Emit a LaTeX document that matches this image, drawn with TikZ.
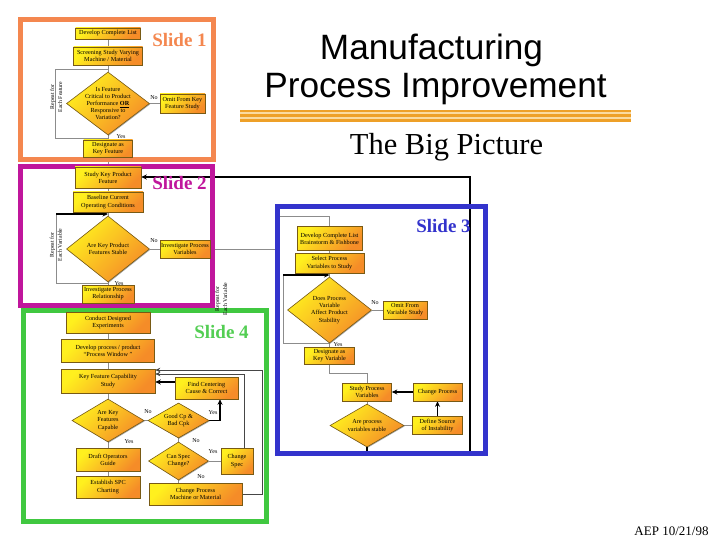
\documentclass[tikz,border=0pt]{standalone}
\usepackage{fontspec}
\setmainfont{Liberation Serif}
\newfontfamily\titlesans{Liberation Sans}
\usetikzlibrary{shapes.geometric,arrows.meta,shadows}
\pgfdeclarelayer{bg}
\pgfdeclarelayer{fr}
\pgfsetlayers{bg,fr,main}
\definecolor{gy}{RGB}{255,240,30}
\definecolor{go}{RGB}{245,140,40}
\definecolor{boxedge}{RGB}{120,90,20}
\definecolor{linegray}{RGB}{140,140,140}
\definecolor{darkline}{RGB}{70,70,70}
\definecolor{cone}{RGB}{244,135,79}
\definecolor{ctwo}{RGB}{192,22,156}
\definecolor{cthree}{RGB}{51,51,204}
\definecolor{cfour}{RGB}{64,200,64}
\definecolor{stripe}{RGB}{238,160,40}
\definecolor{stripelight}{RGB}{250,218,160}
\newcommand{\bxf}{\fontsize{6.2}{7.2}\selectfont}
\tikzset{
  box/.style={draw=boxedge, line width=0.6pt, top color=gy, bottom color=go, shading angle=45,
    align=center, inner sep=0pt, font=\bxf,
    drop shadow={shadow xshift=0.8pt, shadow yshift=-0.8pt, opacity=0.35, fill=black}},
  dia/.style={diamond, draw=boxedge, line width=0.6pt, top color=gy, bottom color=go, shading angle=45,
    inner sep=0pt,
    drop shadow={shadow xshift=0.8pt, shadow yshift=-0.8pt, opacity=0.35, fill=black}},
  dtext/.style={align=center, font=\bxf, inner sep=0pt},
  lbl/.style={font=\fontsize{6}{7}\selectfont, inner sep=0pt},
  rot/.style={rotate=90, align=center, font=\fontsize{5.8}{8}\selectfont, inner sep=0pt},
  conn/.style={draw=linegray, line width=0.7pt},
  barrow/.style={draw=black, line width=1.1pt, -{Stealth[length=5.5pt,width=5pt]}},
  darrow/.style={draw=darkline, line width=0.9pt, -{Stealth[length=5pt,width=4.5pt]}},
  frameline/.style={line width=5pt},
  slidelbl/.style={font=\bfseries\fontsize{19}{22}\selectfont, anchor=base, inner sep=0pt},
}
\begin{document}
\begin{tikzpicture}[x=1pt,y=-1pt]
\useasboundingbox (0,0) rectangle (720,540);
\begin{pgfonlayer}{bg}
  \fill[white] (0,0) rectangle (720,540);
\end{pgfonlayer}

% ---------- Title ----------
\node[font=\titlesans\fontsize{35.2}{40}\selectfont, anchor=base, inner sep=0pt] (t1) at (431.5,59.5) {Manufacturing};
\node[font=\titlesans\fontsize{35.2}{40}\selectfont, anchor=base, inner sep=0pt] (t2) at (435.5,98) {Process Improvement};
\fill[stripelight] (240,110) rectangle (631,122.3);
\fill[stripe] (240,110) rectangle (631,111.8);
\fill[stripe] (240,114) rectangle (631,117.3);
\fill[stripe] (240,119.5) rectangle (631,122);
\node[font=\fontsize{30.5}{34}\selectfont, anchor=base, inner sep=0pt] (t3) at (446.5,155) {The Big Picture};
\node[font=\fontsize{13}{15}\selectfont, anchor=base, inner sep=0pt] (t4) at (671.5,535) {AEP 10/21/98};

% ---------- Frames ----------
\begin{pgfonlayer}{fr}
  \draw[frameline, cone] (20,20) rectangle (213,160);
  \draw[frameline, ctwo] (20,167) rectangle (212,305);
  \draw[frameline, cthree] (277,207) rectangle (485,453);
  \draw[frameline, cfour] (23,310) rectangle (266,521);
\end{pgfonlayer}
\node[slidelbl, text=cone] (sl1) at (179.5,46.7) {Slide 1};
\node[slidelbl, text=ctwo] (sl2) at (179.5,190) {Slide 2};
\node[slidelbl, text=cthree] (sl3) at (443.5,233) {Slide 3};
\node[slidelbl, text=cfour!90!white] (sl4) at (221.5,338) {Slide 4};

% ---------- Slide 1 ----------
\node[box, minimum width=65, minimum height=11] (s1a) at (108,33.5) {Develop Complete List};
\node[box, minimum width=69, minimum height=18] (s1b) at (108,56) {Screening Study Varying\\Machine / Material};
\node[dia, minimum width=83, minimum height=63] (s1d) at (108,103.5) {};
\node[dtext] at (s1d) {Is Feature\\Critical to Product\\Performance \textbf{\underline{OR}}\\Responsive to\\Variation?};
\node[box, minimum width=45, minimum height=19] (s1o) at (182.5,103.5) {Omit From Key\\Feature Study};
\node[box, minimum width=49, minimum height=17] (s1c) at (108,148.5) {Designate as\\Key Feature};
\node[lbl] (n1) at (154,98) {No};
\node[lbl] (y1) at (121,136.5) {Yes};
\node[rot] (r1) at (56,97) {Repeat for\\Each Feature};
\coordinate (l1a) at (55,69);
\coordinate (l1b) at (55,138);

% ---------- Slide 2 ----------
\node[box, minimum width=66, minimum height=21] (s2a) at (108,177.5) {Study Key Product\\Feature};
\node[box, minimum width=70, minimum height=20] (s2b) at (108,202) {Baseline Current\\Operating Conditions};
\node[dia, minimum width=83, minimum height=66] (s2d) at (108,249) {};
\node[dtext] at (s2d) {Are Key Product\\Features Stable};
\node[box, minimum width=50, minimum height=18] (s2v) at (185,249) {Investigate Process\\Variables};
\node[box, minimum width=52, minimum height=18] (s2r) at (108,294) {Investigate Process\\Relationship};
\node[lbl] (n2) at (154,241) {No};
\node[lbl] (y2) at (119,283.5) {Yes};
\node[rot] (r2) at (56,245) {Repeat for\\Each Variable};
\coordinate (l2a) at (56,214);
\coordinate (l2b) at (56,283);

% ---------- Slide 3 ----------
\node[box, minimum width=65, minimum height=24] (s3a) at (329.5,238.5) {Develop Complete List\\Brainstorm \& Fishbone};
\node[box, minimum width=69, minimum height=20] (s3b) at (329.5,263) {Select Process\\Variables to Study};
\node[dia, minimum width=84, minimum height=66] (s3d) at (329.5,310) {};
\node[dtext] at (s3d) {Does Process\\Variable\\Affect Product\\Stability};
\node[box, minimum width=44, minimum height=18] (s3o) at (405,310) {Omit From\\Variable Study};
\node[box, minimum width=50, minimum height=17] (s3c) at (329.5,355.5) {Designate as\\Key Variable};
\node[box, minimum width=49, minimum height=18] (s3s) at (367,392) {Study Process\\Variables};
\node[box, minimum width=49, minimum height=18] (s3p) at (437.5,392) {Change Process};
\node[dia, minimum width=74, minimum height=43] (s3e) at (367,425.5) {};
\node[dtext] at (s3e) {Are process\\variables stable};
\node[box, minimum width=50, minimum height=18] (s3f) at (437.5,425.5) {Define Source\\of Instability};
\node[lbl] (n3) at (375,303) {No};
\node[lbl] (y3) at (338,344.5) {Yes};
\node[rot] (r3) at (221,299) {Repeat for\\Each Variable};
\coordinate (l3a) at (283,275);
\coordinate (l3b) at (283,343);
\coordinate (c1) at (277,216);
\coordinate (c4) at (367,373);
\coordinate (c2) at (470,453);
\coordinate (c3) at (470,177);

% ---------- Slide 4 ----------
\node[box, minimum width=84, minimum height=21] (s4a) at (108,322.5) {Conduct Designed\\Experiments};
\node[box, minimum width=93, minimum height=23] (s4b) at (108,350.5) {Develop process / product\\“Process Window ”};
\node[box, minimum width=94, minimum height=24] (s4c) at (108,381) {Key Feature Capability\\Study};
\node[box, minimum width=63, minimum height=22] (s4h) at (206.5,388) {Find Centering\\Cause \& Correct};
\node[dia, minimum width=72, minimum height=43] (s4d) at (108,420.5) {};
\node[dtext] at (s4d) {Are Key\\Features\\Capable};
\node[dia, minimum width=61, minimum height=35] (s4g) at (178.5,420.5) {};
\node[dtext] at (s4g) {Good Cp \&\\Bad Cpk};
\node[dia, minimum width=60, minimum height=38] (s4i) at (178.5,461) {};
\node[dtext] at (s4i) {Can Spec\\Change?};
\node[box, minimum width=32, minimum height=26] (s4j) at (237,461) {Change\\Spec};
\node[box, minimum width=64, minimum height=23] (s4e) at (108,459.5) {Draft Operators\\Guide};
\node[box, minimum width=64, minimum height=22] (s4f) at (108,487) {Establish SPC\\Charting};
\node[box, minimum width=93, minimum height=22] (s4k) at (195.5,494) {Change Process\\Machine or Material};
\node[lbl] (n4) at (148,412) {No};
\node[lbl] (y4) at (213,413) {Yes};
\node[lbl] (n5) at (196,441) {No};
\node[lbl] (y5) at (129,442) {Yes};
\node[lbl] (y6) at (213,452) {Yes};
\node[lbl] (n6) at (201,477) {No};
\coordinate (c5) at (244,374);
\coordinate (c6) at (262,370);
\coordinate (c7) at (220,420.5);
\coordinate (c8) at (0,382);

% ---------- Connectors ----------
\begin{pgfonlayer}{bg}
  % slide 1
  \draw[conn] (s1a) -- (s1b);
  \draw[conn] (s1b) -- (s1d);
  \draw[conn] (s1d) -- (s1c);
  \draw[conn] (s1d) -- (s1o);
  \draw[conn] (s1d.north |- l1a) -- (l1a) -- (l1b) -- (s1d.south |- l1b);
  \draw[conn] (s1c) -- (s2a);
  % slide 2
  \draw[conn] (s2a) -- (s2b);
  \draw[conn] (s2b) -- (s2d);
  \draw[conn] (s2d) -- (s2v);
  \draw[conn] (s2d) -- (s2r);
  \draw[conn] (l2a) -- (l2b) -- (s2d.south |- l2b);
  \draw[barrow] (l2a) -- (s2d.north |- l2a);
  \draw[conn] (s2v.east) -| (c1) -- (s3a.north |- c1) -- (s3a.north);
  % slide 3
  \draw[conn] (s3a) -- (s3b);
  \draw[conn] (s3b) -- (s3d);
  \draw[conn] (s3d) -- (s3o);
  \draw[conn] (s3d) -- (s3c);
  \draw[conn] (l3a) -- (l3b) -- (s3d.south |- l3b);
  \draw[barrow] (l3a) -- (s3d.north |- l3a);
  \draw[conn] (s3c.south) |- (c4) -- (s3s.north);
  \draw[conn] (s3s) -- (s3e);
  \draw[conn] (s3e) -- (s3f);
  \draw[barrow] (s3p) -- (s3s);
  \draw[barrow] (s3f) -- (s3p);
  \draw[barrow] (s3e.south) -- (s3e.south |- c2) -- (c2) -- (c3) -- (s2a.east |- c3);
  % slide 4
  \draw[conn] (s2r) -- (s4a);
  \draw[conn] (s4a) -- (s4b);
  \draw[conn] (s4b) -- (s4c);
  \draw[conn] (s4c) -- (s4d);
  \draw[conn] (s4d) -- (s4e);
  \draw[conn] (s4e) -- (s4f);
  \draw[conn] (s4d) -- (s4g);
  \draw[conn] (s4g) -- (s4i);
  \draw[conn] (s4i) -- (s4j);
  \draw[conn] (s4i.south) -- (s4i.south |- s4k.north);
  \draw[barrow] (s4g.east) -- (c7) -- (c7 |- s4h.south);
  \draw[barrow] (s4h.west |- c8) -- (s4c.east |- c8);
  \draw[darrow] (s4j.north -| c5) -- (c5) -- (s4c.east |- c5);
  \draw[darrow] (s4k.east) -| (c6) -- (s4c.east |- c6);
\end{pgfonlayer}
\end{tikzpicture}
\end{document}
